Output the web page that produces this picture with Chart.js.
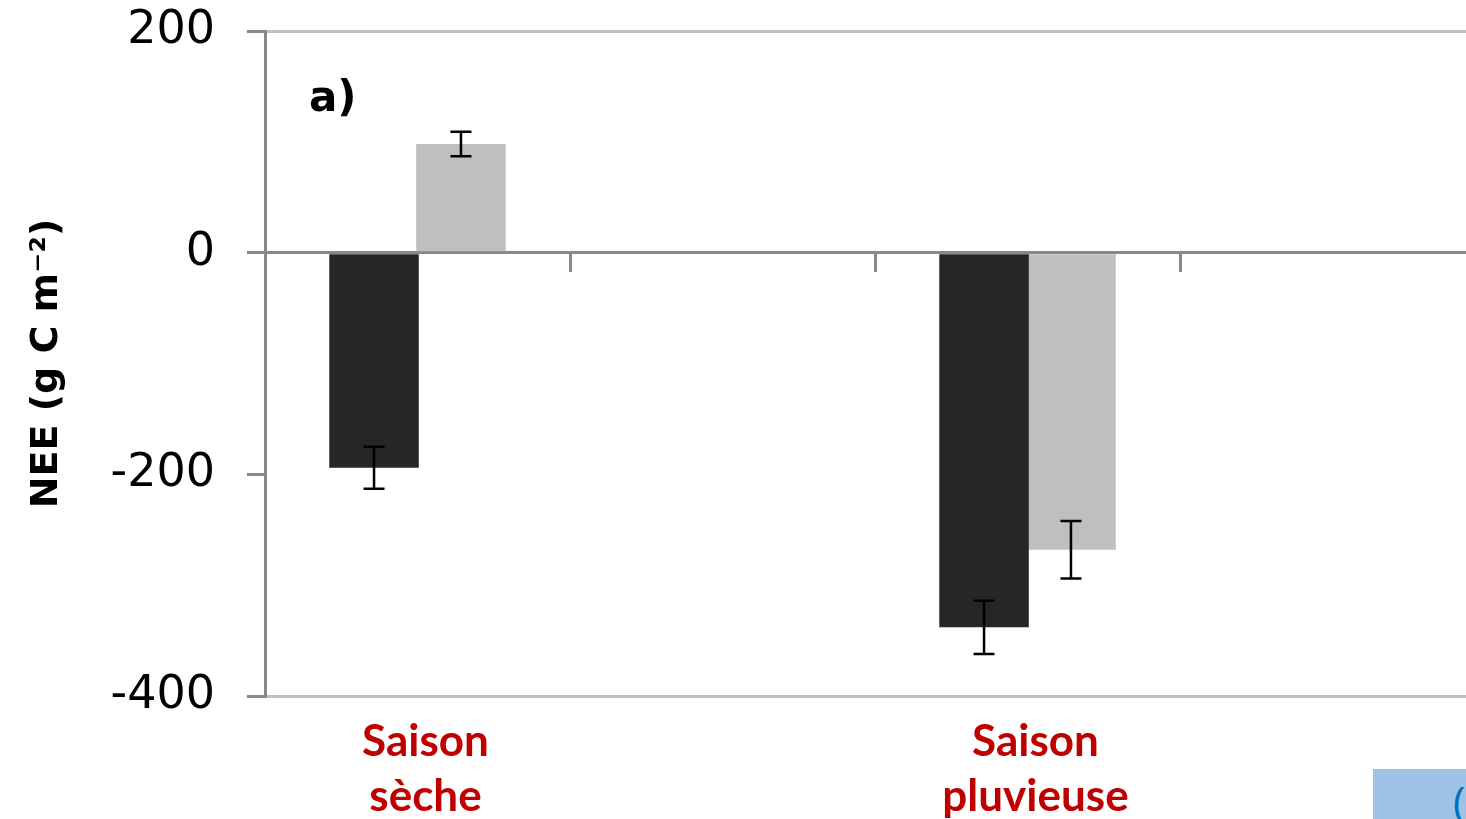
<!DOCTYPE html>
<html lang="fr">
<head>
<meta charset="utf-8">
<title>NEE par saison</title>
<script src="https://cdn.jsdelivr.net/npm/chart.js@4/dist/chart.umd.min.js"></script>
<style>
  html, body { margin: 0; padding: 0; background: #ffffff; overflow: hidden; width: 1466px; height: 819px; }
  #wrap { position: absolute; left: 0; top: 0; width: 1490px; height: 819px; }
  #corner {
    position: absolute; left: 1373px; top: 769px; width: 120px; height: 60px;
    background: #9DC3E6; color: #0070C0; font: 42px "Open Sans", sans-serif;
    line-height: 64px; padding-left: 80px; box-sizing: border-box; overflow: hidden;
  }
</style>
</head>
<body>
<div id="wrap"><canvas id="nee" width="1490" height="819"></canvas></div>
<div id="corner">(</div>
<script>
// Seasons on the category axis (empty slots keep the two groups apart)
const categories = [['Saison', 'sèche'], '', ['Saison', 'pluvieuse'], ''];

// Net ecosystem exchange, g C m-2, with error half-widths
const seriesDark = [-194, null, -338, null];
const errorsDark = [19, null, 24, null];
const seriesLight = [98, null, -268, null];
const errorsLight = [11, null, 26, null];

// Y axis range and tick labels
const yMin = -400;
const yMax = 200;
const yStep = 200;
const yTickValues = [-400, -200, 0, 200];
const panelLabel = 'a)';
const yTitle = 'NEE (g C m⁻²)';

const errorBars = {
  id: 'errorBars',
  afterDatasetsDraw(chart) {
    const ctx = chart.ctx;
    const y = chart.scales.y;
    ctx.save();
    ctx.strokeStyle = '#000000';
    ctx.lineWidth = 2.5;
    chart.data.datasets.forEach((ds, i) => {
      const meta = chart.getDatasetMeta(i);
      meta.data.forEach((bar, j) => {
        const v = ds.data[j];
        const e = ds.errors[j];
        if (v === null || e === null) return;
        const top = y.getPixelForValue(v + e);
        const bot = y.getPixelForValue(v - e);
        const cap = 10.5;
        ctx.beginPath();
        ctx.moveTo(bar.x, top); ctx.lineTo(bar.x, bot);
        ctx.moveTo(bar.x - cap, top); ctx.lineTo(bar.x + cap, top);
        ctx.moveTo(bar.x - cap, bot); ctx.lineTo(bar.x + cap, bot);
        ctx.stroke();
      });
    });
    ctx.restore();
  }
};

const panelTag = {
  id: 'panelTag',
  afterDraw(chart) {
    const ctx = chart.ctx;
    const a = chart.chartArea;
    ctx.save();
    ctx.fillStyle = '#000000';
    ctx.font = 'bold 42px "DejaVu Sans"';
    ctx.textAlign = 'left';
    ctx.textBaseline = 'alphabetic';
    ctx.fillText(panelLabel, a.left + 44, a.top + 80);
    ctx.restore();
  }
};

new Chart(document.getElementById('nee'), {
  type: 'bar',
  data: {
    labels: categories,
    datasets: [
      { data: seriesDark, errors: errorsDark, backgroundColor: '#262626', borderWidth: 0,
        categoryPercentage: 0.57, barPercentage: 1.03, skipNull: false },
      { data: seriesLight, errors: errorsLight, backgroundColor: '#BFBFBF', borderWidth: 0,
        categoryPercentage: 0.57, barPercentage: 1.03, skipNull: false }
    ]
  },
  options: {
    responsive: false,
    animation: false,
    layout: { padding: { top: 31, right: 5, left: 0, bottom: 0 } },
    plugins: { legend: { display: false }, tooltip: { enabled: false } },
    scales: {
      x: {
        type: 'category',
        position: 'bottom',
        grid: { display: false, drawTicks: false },
        border: { display: false },
        ticks: {
          color: '#C00000',
          font: { family: 'Lato', weight: 'bold', size: 44, lineHeight: 1.25 },
          padding: 18,
          labelOffset: 8,
          maxRotation: 0,
          autoSkip: false
        },
        afterFit(scale) { scale.height = 123; }
      },
      x2: {
        type: 'category',
        position: { y: 0 },
        grid: { offset: true, drawOnChartArea: false, drawTicks: true, tickLength: 18, color: '#888888', lineWidth: 3 },
        border: { display: true, color: '#888888', width: 3 },
        ticks: { display: false }
      },
      y: {
        min: yMin,
        max: yMax,
        afterBuildTicks(scale) { scale.ticks = yTickValues.map(v => ({ value: v })); },
        ticks: {
          stepSize: yStep,
          color: '#000000',
          padding: 32,
          font: { family: 'DejaVu Sans', size: 46 }
        },
        grid: {
          color: c => (c.tick.value === 0 ? '#888888' : (c.tick.value === yMax || c.tick.value === yMin) ? '#BFBFBF' : 'rgba(0,0,0,0)'),
          lineWidth: 3,
          tickLength: 18,
          tickColor: '#888888',
          tickWidth: 3
        },
        border: { display: true, color: '#888888', width: 3 },
        title: {
          display: true,
          text: yTitle,
          color: '#000000',
          font: { family: 'DejaVu Sans', weight: 'bold', size: 38 },
          padding: { top: 24, bottom: 0 }
        },
        afterFit(scale) {
          scale.width = 265;
          scale.paddingTop = 0;
          scale.paddingBottom = 0;
        }
      }
    }
  },
  plugins: [errorBars, panelTag]
});
</script>
</body>
</html>
